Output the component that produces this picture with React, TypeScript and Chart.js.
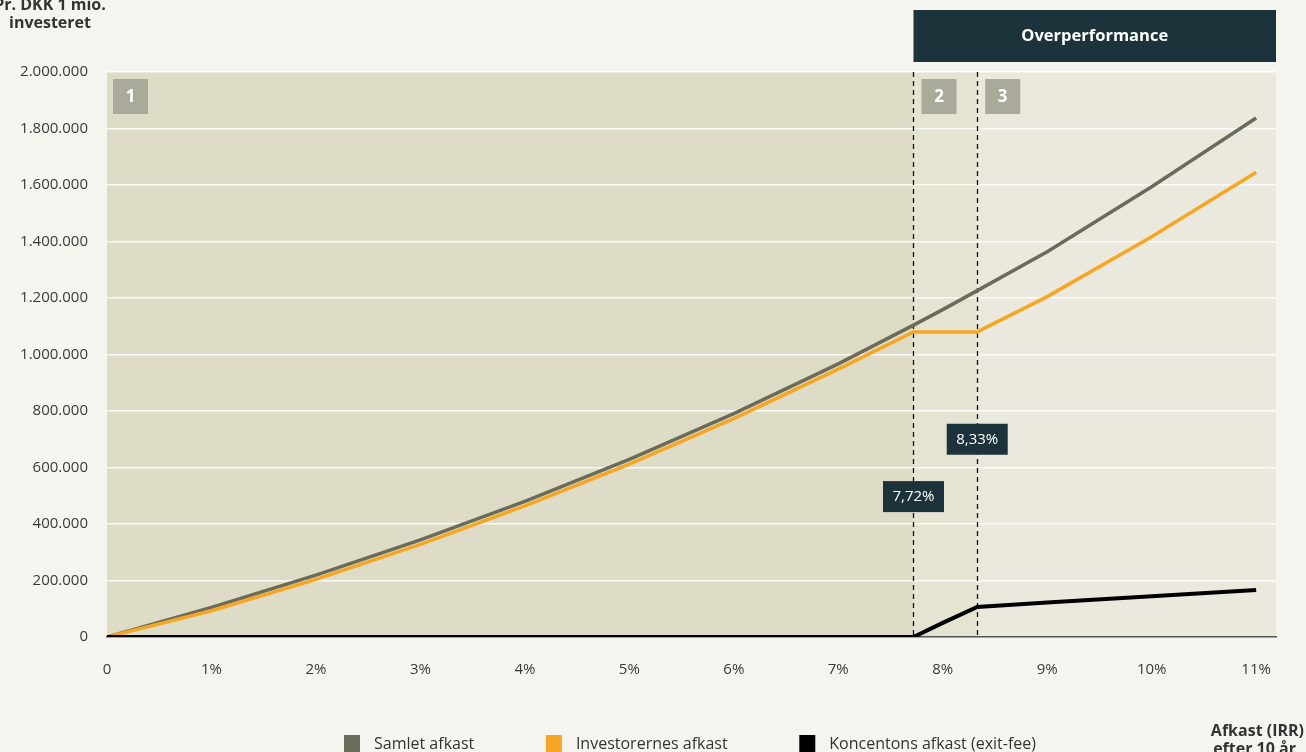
import React, { useEffect, useRef } from "react";
import { Chart, registerables } from "chart.js";

Chart.register(...registerables);

// ---- Data ----
const X_VALUES = [0, 1, 2, 3, 4, 5, 6, 7, 7.72, 8, 8.33, 9, 10, 11];
const SAMLET = [0, 105000, 219000, 344000, 480000, 629000, 791000, 967000, 1104000, 1159000, 1226000, 1364000, 1594000, 1837000];
const INVESTOR = [0, 93000, 204000, 328000, 464000, 612000, 773000, 948000, 1080000, 1080000, 1080000, 1205000, 1417000, 1645000];
const KONCENTONS = [0, 0, 0, 0, 0, 0, 0, 0, 0, 50000, 106000, 122000, 144000, 166000];

const SERIES_LABELS = ["Samlet afkast", "Investorernes afkast", "Koncentons afkast (exit-fee)"];
const SERIES_COLORS = ["#6b6b59", "#f6a623", "#000000"];

const X_TICKS = [0, 1, 2, 3, 4, 5, 6, 7, 8, 9, 10, 11];
const Y_TICKS = [0, 200000, 400000, 600000, 800000, 1000000, 1200000, 1400000, 1600000, 1800000, 2000000];

const THRESHOLDS = [7.72, 8.33];
const THRESHOLD_LABELS = ["7,72%", "8,33%"];
const THRESHOLD_LABEL_Y = [497000, 700000];
const ZONE_NUMBERS = ["1", "2", "3"];

const Y_TITLE = ["Pr. DKK 1 mio.", "investeret"];
const X_TITLE = ["Afkast (IRR)", "efter 10 år"];
const BANNER = "Overperformance";

const FONT = "'Open Sans', 'DejaVu Sans', sans-serif";
const PAGE_BG = "#f5f5f0";
const DARK = "#1c333c";

const fmt = (v: number) => String(Math.round(v)).replace(/\B(?=(\d{3})+(?!\d))/g, ".");

export default function App() {
  const ref = useRef<HTMLCanvasElement | null>(null);

  useEffect(() => {
    document.body.style.margin = "0";
    document.body.style.background = PAGE_BG;
    const canvas = ref.current;
    if (!canvas) return;

    const decorPlugin = {
      id: "decor",
      beforeDraw(chart: any) {
        const { ctx, chartArea: a, scales } = chart;
        const x = scales.x;
        ctx.save();
        ctx.fillStyle = PAGE_BG;
        ctx.fillRect(0, 0, chart.width, chart.height);
        const x1 = x.getPixelForValue(THRESHOLDS[0]);
        const x2 = x.getPixelForValue(THRESHOLDS[1]);
        ctx.fillStyle = "#dedcc6";
        ctx.fillRect(a.left, a.top, x1 - a.left, a.bottom - a.top);
        ctx.fillStyle = "#e5e3d2";
        ctx.fillRect(x1, a.top, x2 - x1, a.bottom - a.top);
        ctx.fillStyle = "#ebe9de";
        ctx.fillRect(x2, a.top, a.right - x2, a.bottom - a.top);
        ctx.restore();
      },
      beforeDatasetsDraw(chart: any) {
        const { ctx, chartArea: a, scales } = chart;
        ctx.save();
        ctx.strokeStyle = "#111";
        ctx.lineWidth = 1.3;
        ctx.setLineDash([5, 4]);
        THRESHOLDS.forEach((t) => {
          const px = Math.round(scales.x.getPixelForValue(t)) + 0.5;
          ctx.beginPath();
          ctx.moveTo(px, a.top);
          ctx.lineTo(px, a.bottom);
          ctx.stroke();
        });
        ctx.restore();
      },
      afterDraw(chart: any) {
        const { ctx, chartArea: a, scales } = chart;
        const x = scales.x;
        const y = scales.y;
        const x1 = x.getPixelForValue(THRESHOLDS[0]);
        const x2 = x.getPixelForValue(THRESHOLDS[1]);
        ctx.save();

        // Banner
        ctx.fillStyle = DARK;
        ctx.fillRect(x1, 10, a.right - x1, 52);
        ctx.fillStyle = "#ffffff";
        ctx.font = `bold 16.5px ${FONT}`;
        ctx.textAlign = "center";
        ctx.textBaseline = "middle";
        ctx.fillText(BANNER, (x1 + a.right) / 2, 36);

        // Zone number boxes
        const zoneX = [a.left + 6, x1 + 8, x2 + 8];
        ZONE_NUMBERS.forEach((n, i) => {
          ctx.fillStyle = "#a9aa9a";
          ctx.fillRect(zoneX[i], a.top + 7, 35, 35);
          ctx.fillStyle = "#ffffff";
          ctx.font = `bold 17px ${FONT}`;
          ctx.fillText(n, zoneX[i] + 17.5, a.top + 25);
        });

        // Threshold labels
        THRESHOLDS.forEach((t, i) => {
          const cx = x.getPixelForValue(t);
          const cy = y.getPixelForValue(THRESHOLD_LABEL_Y[i]);
          ctx.fillStyle = DARK;
          ctx.fillRect(cx - 30.5, cy - 15.5, 61, 31);
          ctx.fillStyle = "#ffffff";
          ctx.font = `15px ${FONT}`;
          ctx.fillText(THRESHOLD_LABELS[i], cx, cy + 0.5);
        });

        // Y axis title
        ctx.fillStyle = "#333";
        ctx.font = `bold 16px ${FONT}`;
        ctx.fillText(Y_TITLE[0], 50, 5);
        ctx.fillText(Y_TITLE[1], 50, 23);

        // X axis title
        ctx.textAlign = "right";
        ctx.fillText(X_TITLE[0], 1304, 731);
        ctx.fillText(X_TITLE[1], 1296, 749);

        // Legend (spread across the reference span)
        ctx.font = `16px ${FONT}`;
        const gap = 14, sq = 16, start = 344, end = 1036;
        const widths = SERIES_LABELS.map((l) => sq + gap + ctx.measureText(l).width);
        const sum = widths.reduce((s, w) => s + w, 0);
        const spacing = (end - start - sum) / (widths.length - 1);
        let lx = start;
        ctx.textAlign = "left";
        SERIES_LABELS.forEach((l, i) => {
          ctx.fillStyle = SERIES_COLORS[i];
          ctx.fillRect(lx, 735, sq, 18);
          ctx.fillStyle = "#333";
          ctx.fillText(l, lx + sq + gap, 744);
          lx += widths[i] + spacing;
        });
        ctx.restore();
      },
    };

    const chart = new Chart(canvas, {
      type: "line",
      data: {
        datasets: [
          {
            label: SERIES_LABELS[0],
            data: X_VALUES.map((xv, i) => ({ x: xv, y: SAMLET[i] })),
            borderColor: SERIES_COLORS[0],
            borderWidth: 3.5,
            pointRadius: 0,
            tension: 0,
            order: 2,
          },
          {
            label: SERIES_LABELS[1],
            data: X_VALUES.map((xv, i) => ({ x: xv, y: INVESTOR[i] })),
            borderColor: SERIES_COLORS[1],
            borderWidth: 3.5,
            pointRadius: 0,
            tension: 0,
            order: 1,
          },
          {
            label: SERIES_LABELS[2],
            data: X_VALUES.map((xv, i) => ({ x: xv, y: KONCENTONS[i] })),
            borderColor: SERIES_COLORS[2],
            borderWidth: 4,
            pointRadius: 0,
            tension: 0,
            order: 0,
          },
        ],
      },
      options: {
        animation: false,
        responsive: false,
        devicePixelRatio: 1,
        layout: { padding: { top: 72, right: 30, left: 0, bottom: 0 } },
        plugins: { legend: { display: false }, tooltip: { enabled: false } },
        scales: {
          x: {
            type: "linear",
            min: 0,
            max: 11.19,
            afterBuildTicks: (s: any) => {
              s.ticks = X_TICKS.map((v) => ({ value: v }));
            },
            afterFit: (s: any) => {
              s.height = 115;
            },
            grid: { display: false, drawTicks: false },
            border: { display: true, color: "#555", width: 1.5 },
            ticks: {
              padding: 24,
              color: "#3a3a3a",
              font: { family: FONT, size: 15 },
              maxRotation: 0,
              autoSkip: false,
              callback: (v: any) => (Number(v) === 0 ? "0" : `${v}%`),
            },
          },
          y: {
            type: "linear",
            min: 0,
            max: 2000000,
            afterBuildTicks: (s: any) => {
              s.ticks = Y_TICKS.map((v) => ({ value: v }));
            },
            afterFit: (s: any) => {
              s.width = 107;
            },
            grid: {
              drawTicks: false,
              lineWidth: 1.5,
              color: (c: any) => (c.tick && c.tick.value === 0 ? "rgba(0,0,0,0)" : "rgba(255,255,255,0.85)"),
            },
            border: { display: false },
            ticks: {
              padding: 19,
              color: "#3a3a3a",
              font: { family: FONT, size: 15 },
              callback: (v: any) => fmt(Number(v)),
            },
          },
        },
      },
      plugins: [decorPlugin],
    } as any);

    return () => chart.destroy();
  }, []);

  return (
    <div style={{ width: 1306, height: 752, overflow: "hidden" }}>
      <canvas ref={ref} width={1306} height={752} style={{ display: "block", width: 1306, height: 752 }} />
    </div>
  );
}
